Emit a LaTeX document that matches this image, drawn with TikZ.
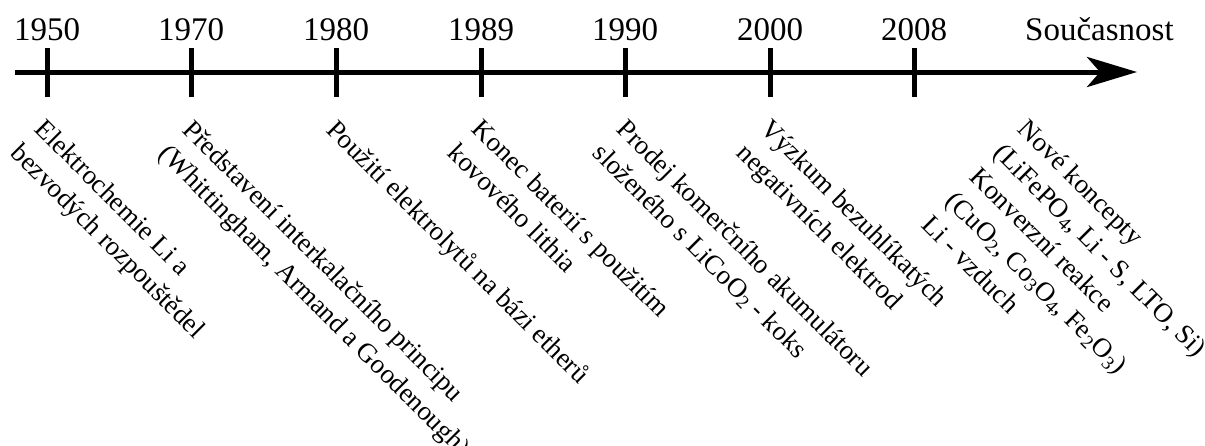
\documentclass[tikz,border=0pt]{standalone}
\usepackage{fontspec}
\setmainfont{Liberation Serif}
\usetikzlibrary{arrows.meta}
\begin{document}
\begin{tikzpicture}[x=1pt,y=-1pt,
  axisline/.style={line width=5pt},
  tickline/.style={line width=5pt},
  year/.style={font=\fontsize{33}{40}\selectfont, anchor=base, inner sep=0pt},
  event/.style={font=\fontsize{27}{34}\selectfont, rotate=-45, anchor=north west, align=left, inner sep=0pt}]
\useasboundingbox (0,0) rectangle (1205,445);
% axis
\coordinate (s) at (15,72);
\coordinate (e) at (1137,72);
\draw[axisline,-{Stealth[length=50pt,width=30pt,inset=13pt]}] (s) -- (e);
% ticks
\coordinate (t1) at (47,72);
\coordinate (t2) at (191,72);
\coordinate (t3) at (336,72);
\coordinate (t4) at (481,72);
\coordinate (t5) at (625,72);
\coordinate (t6) at (770,72);
\coordinate (t7) at (914,72);
\foreach \t in {t1,t2,t3,t4,t5,t6,t7}{
  \draw[tickline] ([yshift=24pt]\t) -- ([yshift=-25pt]\t);
}
% years
\node[year] (y1) at (47,40) {1950};
\node[year] (y2) at (191,40) {1970};
\node[year] (y3) at (336,40) {1980};
\node[year] (y4) at (481,40) {1989};
\node[year] (y5) at (625,40) {1990};
\node[year] (y6) at (770,40) {2000};
\node[year] (y7) at (914,40) {2008};
\node[year, anchor=base west] (now) at (1025,40) {Současnost};
% events
\node[event] (ev1) at (47,117) {Elektrochemie Li a\\bezvodých rozpouštědel};
\node[event] (ev2) at (195,118) {Představení interkalačního principu\\(Whittingham, Armand a Goodenough)};
\node[event] (ev3) at (339,117) {Použití elektrolytů na bázi etherů};
\node[event] (ev4) at (484,117) {Konec baterií s použitím\\kovového lithia};
\node[event] (ev5) at (629,117) {Prodej komerčního akumulátoru\\složeného s LiCoO\textsubscript{2} - koks};
\node[event] (ev6) at (773,117) {Výzkum bezuhlíkatých\\negativních elektrod};
\node[event] (ev7) at (1030,117) {Nové koncepty\\(LiFePO\textsubscript{4}, Li - S, LTO, Si)\\Konverzní reakce\\(CuO\textsubscript{2}, Co\textsubscript{3}O\textsubscript{4}, Fe\textsubscript{2}O\textsubscript{3})\\Li - vzduch};
\end{tikzpicture}
\end{document}
